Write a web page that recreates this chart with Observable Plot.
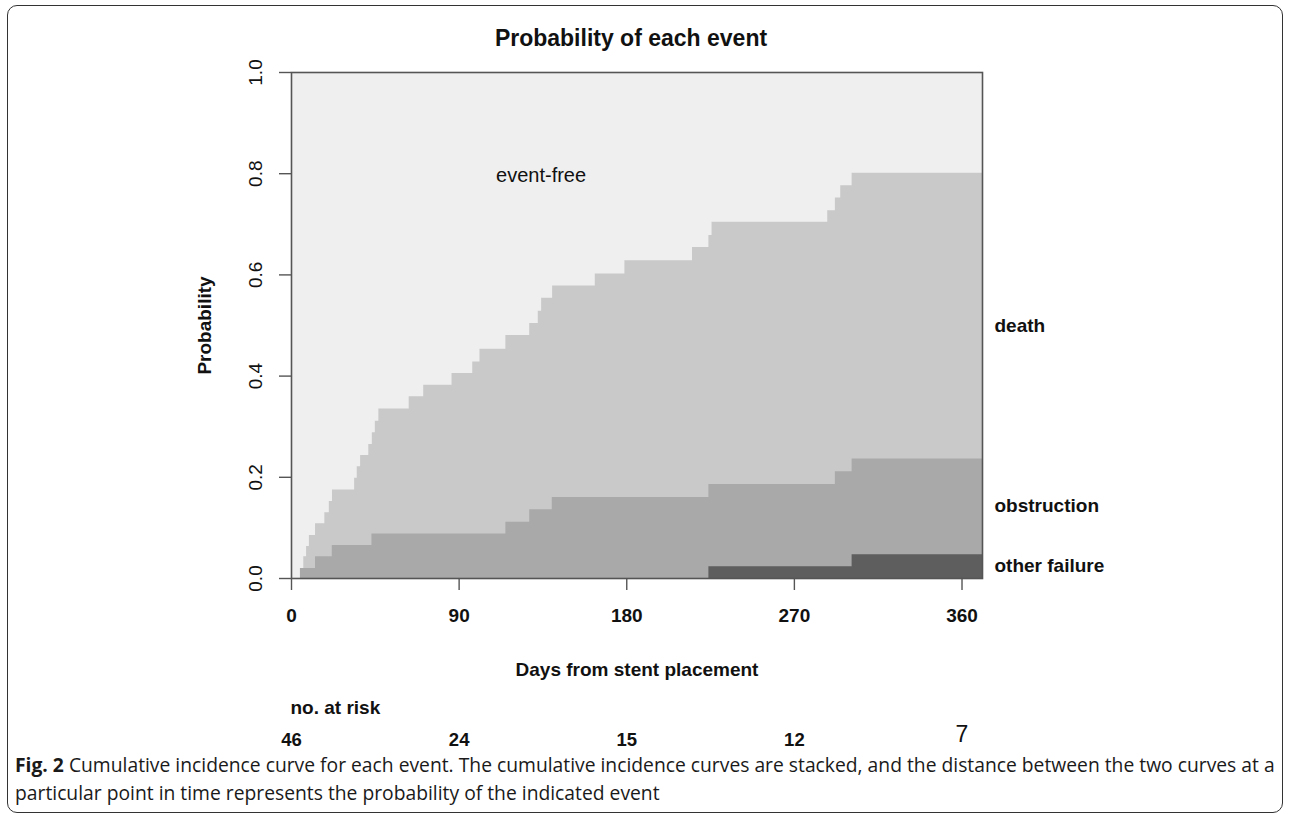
<!DOCTYPE html>
<html>
<head>
<meta charset="utf-8">
<script src="https://cdn.jsdelivr.net/npm/d3@7"></script>
<script src="https://cdn.jsdelivr.net/npm/@observablehq/plot@0.6"></script>
<style>
  html, body { margin: 0; padding: 0; background: #fff; }
  body { width: 1292px; height: 822px; position: relative; overflow: hidden; }
  #card { position: absolute; left: 7px; top: 5px; width: 1276px; height: 808px;
          border: 1.5px solid #333; border-radius: 10px; box-sizing: border-box; }
  #chart { position: absolute; left: 0; top: 0; }
  .cap { position: absolute; left: 15px; font-family: "Open Sans", sans-serif;
         font-size: 19.3px; line-height: 20px; height: 20px; color: #1a1a1a; white-space: nowrap; }
  #cap1 { top: 755px; }
  #cap2 { top: 783px; }
</style>
</head>
<body>
<div id="card"></div>
<div id="chart"></div>
<div class="cap" id="cap1"><b>Fig. 2</b> Cumulative incidence curve for each event. The cumulative incidence curves are stacked, and the distance between the two curves at a</div>
<div class="cap" id="cap2">particular point in time represents the probability of the indicated event</div>
<script>
// Stacked cumulative incidence
// top of all events (other failure + obstruction + death)
const anyEventDays = [0, 4.8, 6.6, 8.1, 9.6, 12.9, 17.9, 20.3, 22.0, 33.9, 35.3, 37.1, 41.5, 43.4, 45.0, 46.9,
  63.2, 71.0, 86.2, 97.3, 101.2, 115.1, 127.9, 132.5, 134.3, 140.2, 163.1, 179.0, 215.3, 224.1, 225.8,
  287.9, 292.0, 294.9, 301.0];
const anyEventProb = [0, 0.020, 0.043, 0.063, 0.085, 0.108, 0.130, 0.152, 0.175, 0.198, 0.221, 0.243, 0.265, 0.288, 0.311, 0.335,
  0.359, 0.382, 0.405, 0.428, 0.453, 0.480, 0.504, 0.528, 0.554, 0.578, 0.602, 0.628, 0.654, 0.678, 0.704,
  0.727, 0.752, 0.776, 0.801];
// top of obstruction (other failure + obstruction)
const obstructionDays = [0, 4.8, 12.9, 21.9, 43.2, 115.1, 127.9, 140.0, 224.1, 292.0, 301.0];
const obstructionProb = [0, 0.020, 0.043, 0.065, 0.088, 0.111, 0.136, 0.160, 0.186, 0.211, 0.236];
// other failure
const otherDays = [0, 224.1, 301.0];
const otherProb = [0, 0.023, 0.047];

const followUpEnd = 371;
const xTicks = [0, 90, 180, 270, 360];
const yTicks = [0, 0.2, 0.4, 0.6, 0.8, 1.0];
const atRiskDays = [0, 90, 180, 270, 360];
const atRisk = [46, 24, 15, 12, 7];
const eventLabels = ["death", "obstruction", "other failure"];

function steps(days, probs) {
  const pts = days.map((d, i) => ({x: d, y: probs[i]}));
  pts.push({x: followUpEnd, y: probs[probs.length - 1]});
  return pts;
}
const anyEvent = steps(anyEventDays, anyEventProb);
const obstruction = steps(obstructionDays, obstructionProb);
const other = steps(otherDays, otherProb);

const font = "'Liberation Sans', Arial, Helvetica, sans-serif";
const labelY = [0.5, 0.143, 0.024];

const chart = Plot.plot({
  width: 1292,
  height: 760,
  marginLeft: 291,
  marginRight: 310,
  marginTop: 72,
  marginBottom: 182,
  style: {fontFamily: font, background: "transparent", color: "#111"},
  x: {domain: [0, followUpEnd]},
  y: {domain: [0, 1]},
  marks: [
    Plot.frame({fill: "#efefef", stroke: null}),
    Plot.areaY(anyEvent, {x: "x", y: "y", curve: "step-after", fill: "#c9c9c9"}),
    Plot.areaY(obstruction, {x: "x", y: "y", curve: "step-after", fill: "#a9a9a9"}),
    Plot.areaY(other, {x: "x", y: "y", curve: "step-after", fill: "#5e5e5e"}),
    Plot.frame({stroke: "#555", strokeWidth: 1.6}),
    Plot.axisX({ticks: xTicks, tickSize: 12, tickPadding: 18, fontSize: 19, fontWeight: "bold",
      label: null, stroke: "#555", strokeWidth: 1.4}),
    Plot.axisY({ticks: yTicks, tickSize: 12, tickFormat: () => "", label: null, stroke: "#555", strokeWidth: 1.4}),
    Plot.text(yTicks, {y: d => d, frameAnchor: "left", rotate: -90, dx: -36,
      text: d => d3.format(".1f")(d), fontSize: 19, textAnchor: "middle", lineAnchor: "middle"}),
    Plot.text(["Probability"], {frameAnchor: "left", rotate: -90, dx: -87, text: d => d,
      fontSize: 19, fontWeight: "bold", textAnchor: "middle", lineAnchor: "middle"}),
    Plot.text(["Probability of each event"], {frameAnchor: "top", dx: -6, dy: -34, text: d => d,
      fontSize: 23, fontWeight: "bold", lineAnchor: "middle"}),
    Plot.text(["event-free"], {x: () => 134, y: () => 0.796, text: d => d, fontSize: 20, lineAnchor: "middle"}),
    Plot.text(eventLabels, {x: () => followUpEnd, y: (d, i) => labelY[i], text: d => d, dx: 12,
      textAnchor: "start", fontSize: 19, fontWeight: "bold", lineAnchor: "middle"}),
    Plot.text(["Days from stent placement"], {frameAnchor: "bottom", dy: 91, text: d => d,
      fontSize: 19, fontWeight: "bold", lineAnchor: "middle"}),
    Plot.text(["no. at risk"], {frameAnchor: "bottom-left", dy: 129, dx: -1, text: d => d,
      fontSize: 19, fontWeight: "bold", textAnchor: "start", lineAnchor: "middle"}),
    Plot.text(atRisk.slice(0, 4), {x: (d, i) => atRiskDays[i], frameAnchor: "bottom", dy: 162, text: d => String(d),
      fontSize: 18.5, fontWeight: "bold", lineAnchor: "middle"}),
    Plot.text(atRisk.slice(4), {x: (d, i) => atRiskDays[4 + i], frameAnchor: "bottom", dy: 156, text: d => String(d),
      fontSize: 23, lineAnchor: "middle"})
  ]
});
document.getElementById("chart").appendChild(chart);
</script>
</body>
</html>
